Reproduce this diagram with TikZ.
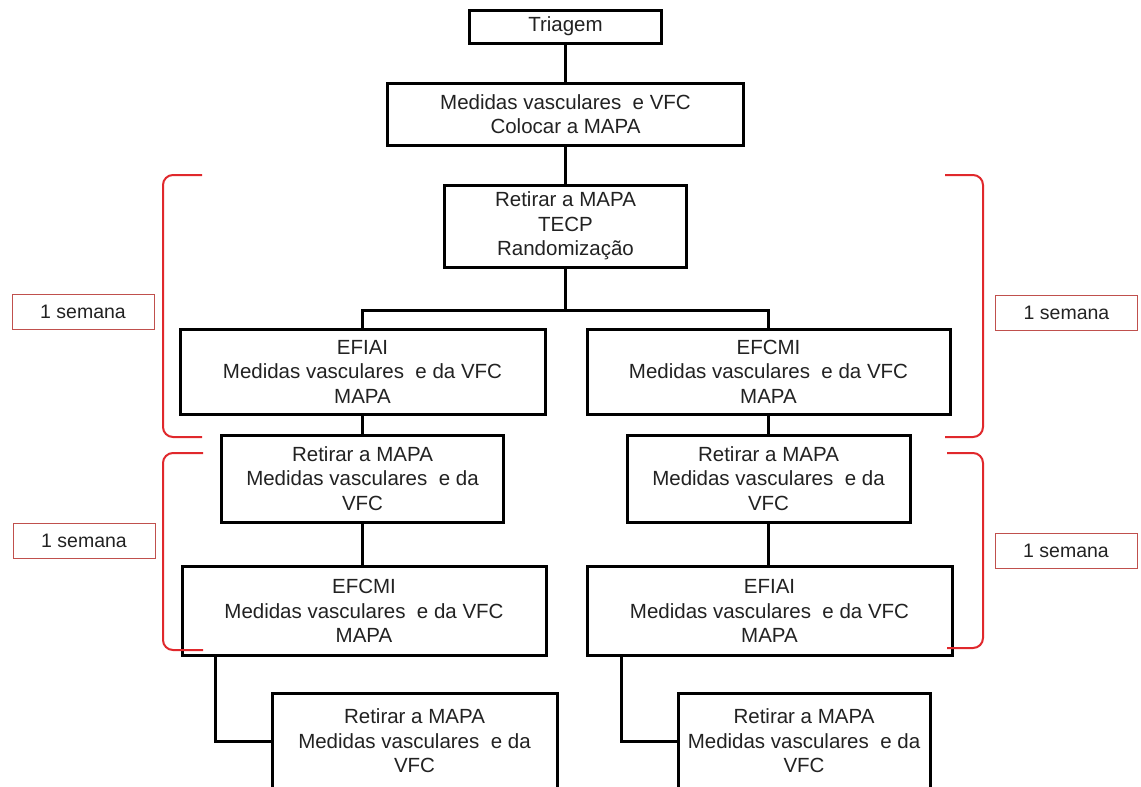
\documentclass[tikz,border=0pt]{standalone}
\usepackage{fontspec}
\setmainfont{Liberation Sans}
\definecolor{txt}{HTML}{222222}
\definecolor{brk}{HTML}{E0282C}
\definecolor{lbl}{HTML}{C0504D}
\begin{document}
\begin{tikzpicture}[x=1pt,y=-1pt,
  box/.style={draw=black, line width=3pt, inner sep=0pt, align=center, text=txt,
    font=\fontsize{20.5}{24.5}\selectfont},
  conn/.style={draw=black, line width=3pt},
  brack/.style={draw=brk, line width=2pt, rounded corners=10pt},
  lab/.style={draw=lbl, line width=1pt, inner sep=0pt, minimum width=142pt, minimum height=35pt,
    text=txt, font=\fontsize{19.5}{23}\selectfont}]
\useasboundingbox (0,0) rectangle (1141,787);
\fill[white] (0,0) rectangle (1141,787);

\node[box, minimum width=192pt, minimum height=33pt] (tri) at (565.5,26.5) {Triagem};
\node[box, minimum width=356pt, minimum height=62pt] (m1) at (565.5,114) {Medidas vasculares \ e VFC\\Colocar a MAPA};
\node[box, minimum width=242pt, minimum height=82pt] (ret) at (565.5,226) {Retirar a MAPA\\TECP\\Randomização};

\node[box, minimum width=365pt, minimum height=85pt] (efL) at (362.5,371.5) {EFIAI\\Medidas vasculares \ e da VFC\\MAPA};
\node[box, minimum width=363pt, minimum height=85pt] (efR) at (768.5,371.5) {EFCMI\\Medidas vasculares \ e da VFC\\MAPA};

\node[box, minimum width=282pt, minimum height=87pt] (rL) at (362.5,478.5) {Retirar a MAPA\\Medidas vasculares \ e da\\VFC};
\node[box, minimum width=283pt, minimum height=87pt] (rR) at (768.5,478.5) {Retirar a MAPA\\Medidas vasculares \ e da\\VFC};

\node[box, minimum width=364pt, minimum height=89pt] (e2L) at (364,611) {EFCMI\\Medidas vasculares \ e da VFC\\MAPA};
\node[box, minimum width=365pt, minimum height=89pt] (e2R) at (769.5,611) {EFIAI\\Medidas vasculares \ e da VFC\\MAPA};

\node[box, minimum width=285pt, minimum height=96pt] (bL) at (414.5,741) {Retirar a MAPA\\Medidas vasculares \ e da\\VFC};
\node[box, minimum width=252pt, minimum height=96pt] (bR) at (804,741) {Retirar a MAPA\\Medidas vasculares \ e da\\VFC};

% connectors
\coordinate (split) at (565.5,310);
\draw[conn] (tri.south) -- (m1.north);
\draw[conn] (m1.south) -- (ret.north);
\draw[conn] (ret.south) -- (split);
\draw[conn] (split) -| (efL.north);
\draw[conn] (split) -| (efR.north);
\draw[conn] (efL.south) -- (rL.north);
\draw[conn] (efR.south) -- (rR.north);
\draw[conn] (rL.south) -- (rL.south |- e2L.north);
\draw[conn] (rR.south) -- (rR.south |- e2R.north);
\draw[conn] ([xshift=35pt]e2L.south west) |- (bL.west);
\draw[conn] ([xshift=36pt]e2R.south west) |- (bR.west);

% brackets
\draw[brack] (202,175) -- (163,175) -- (163,437) -- (202,437);
\draw[brack] (203,453) -- (163,453) -- (163,650) -- (203,650);
\draw[brack] (945,175) -- (983,175) -- (983,437) -- (945,437);
\draw[brack] (947,453) -- (983,453) -- (983,648) -- (947,648);

% labels
\node[lab] (l1) at (83,311.5) {1 semana};
\node[lab] (l2) at (84,540.5) {1 semana};
\node[lab] (l3) at (1066.5,313) {1 semana};
\node[lab] (l4) at (1066,551) {1 semana};
\end{tikzpicture}
\end{document}
